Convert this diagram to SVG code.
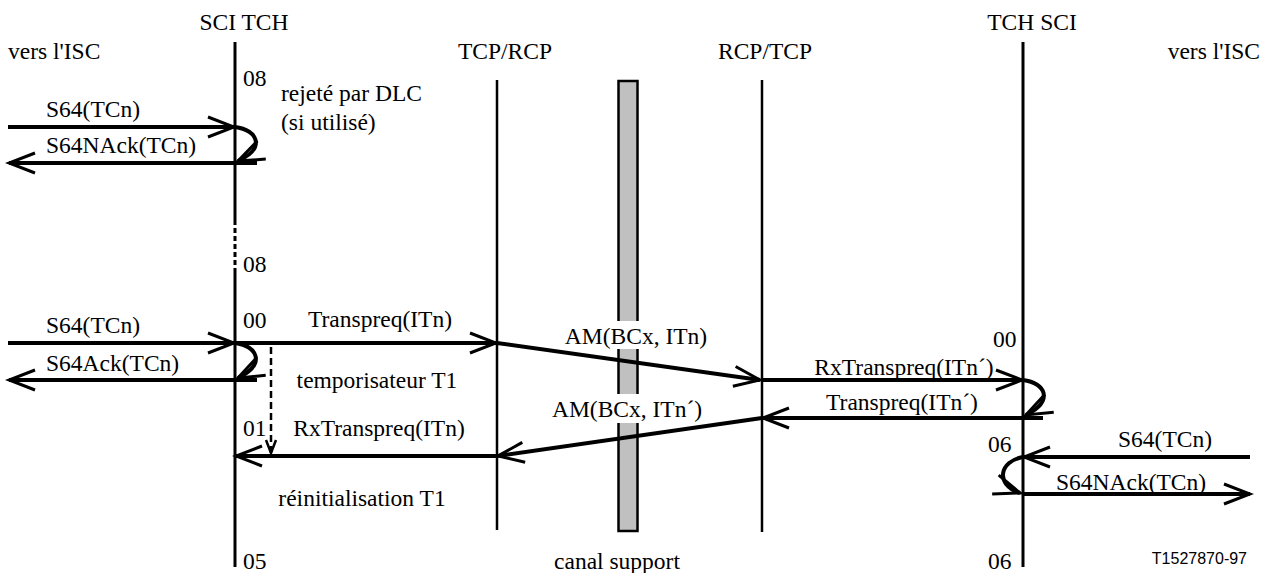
<svg xmlns="http://www.w3.org/2000/svg" width="1268" height="573" viewBox="0 0 1268 573">
<style>
text{font-family:"Liberation Serif","Times New Roman",serif;font-size:23.5px;fill:#000}
.mid{text-anchor:middle}
.end{text-anchor:end}
.ref{font-family:"Liberation Sans",Arial,sans-serif;font-size:16px}
.life{stroke:#000;stroke-width:3;fill:none}
.life2{stroke:#000;stroke-width:2.5;fill:none}
.msg{stroke:#000;stroke-width:4;fill:none;marker-end:url(#ah)}
.loop{stroke:#000;stroke-width:4;fill:none;marker-end:url(#ah)}
.dash{stroke:#000;stroke-width:2.5;fill:none;stroke-dasharray:7 4;marker-end:url(#ahs)}
</style>
<defs>
<marker id="ah" markerUnits="userSpaceOnUse" viewBox="-30 -14 34 28" refX="0" refY="0" markerWidth="34" markerHeight="28" orient="auto">
<path d="M-26,-10 L0,0 L-26,10" fill="none" stroke="#000" stroke-width="3"/>
</marker>
<marker id="ahs" markerUnits="userSpaceOnUse" viewBox="-16 -8 20 16" refX="0" refY="0" markerWidth="20" markerHeight="16" orient="auto">
<path d="M-13,-5 L0,0 L-13,5" fill="none" stroke="#000" stroke-width="2.5"/>
</marker>
</defs>
<rect width="1268" height="573" fill="#fff"/>

<g id="sci-tch-left">
<text x="244" y="30" class="mid">SCI TCH</text>
<text x="8" y="59">vers l'ISC</text>
<line x1="235" y1="42" x2="235" y2="220" class="life"/>
<line x1="235" y1="220" x2="235" y2="272" class="life" stroke-dasharray="5 3"/>
<line x1="235" y1="272" x2="235" y2="567" class="life"/>
<text x="243" y="86">08</text>
<text x="281" y="101">rejeté par DLC</text>
<text x="281" y="130">(si utilisé)</text>
<text x="243" y="272">08</text>
<text x="243" y="328">00</text>
<text x="243" y="436">01</text>
<text x="243" y="569">05</text>
<text x="377" y="388" class="mid">temporisateur T1</text>
<text x="362" y="506" class="mid">réinitialisation T1</text>
</g>

<g id="tcp-rcp">
<text x="505" y="59" class="mid">TCP/RCP</text>
<line x1="497" y1="80" x2="497" y2="530" class="life2"/>
</g>

<g id="canal-support">
<rect x="618.5" y="81" width="19" height="450" fill="#c0c0c0" stroke="#000" stroke-width="2.5"/>
<text x="617" y="569" class="mid">canal support</text>
</g>

<g id="rcp-tcp">
<text x="765" y="59" class="mid">RCP/TCP</text>
<line x1="762" y1="80" x2="762" y2="532" class="life2"/>
</g>

<g id="tch-sci-right">
<text x="1032" y="30" class="mid">TCH SCI</text>
<text x="1260" y="59" class="end">vers l'ISC</text>
<line x1="1023" y1="42" x2="1023" y2="567" class="life"/>
<text x="993" y="347">00</text>
<text x="988" y="452">06</text>
<text x="988" y="569">06</text>
<text x="1247" y="564" class="end ref">T1527870-97</text>
</g>

<g id="connectors">
<line x1="8" y1="127" x2="234" y2="127" class="msg"/>
<path d="M235,127 C258,130 266,148 238,161" class="loop"/>
<line x1="257" y1="163" x2="9" y2="163" class="msg"/>

<line x1="8" y1="343" x2="234" y2="343" class="msg"/>
<line x1="235" y1="343" x2="496" y2="343" class="msg"/>
<path d="M235,343 C258,346 266,364 238,378" class="loop"/>
<line x1="257" y1="380" x2="9" y2="380" class="msg"/>
<line x1="271" y1="347" x2="271" y2="453" class="dash"/>

<rect x="562" y="321" width="148" height="28" fill="#fff"/>
<line x1="497" y1="343" x2="760" y2="380" class="msg"/>
<line x1="762" y1="380" x2="1022" y2="380" class="msg"/>
<path d="M1023,380 C1046,383 1054,401 1026,415" class="loop"/>
<line x1="1043" y1="418" x2="763" y2="418" class="msg"/>
<rect x="548" y="394" width="158" height="29" fill="#fff"/>
<line x1="762" y1="418" x2="498" y2="456" class="msg"/>
<line x1="497" y1="456" x2="236" y2="456" class="msg"/>

<line x1="1250" y1="457" x2="1024" y2="457" class="msg"/>
<path d="M1023,457 C1000,461 994,484 1020,493" class="loop"/>
<line x1="1023" y1="494" x2="1250" y2="494" class="msg"/>
</g>

<g id="labels">
<text x="46" y="117">S64(TCn)</text>
<text x="46" y="153">S64NAck(TCn)</text>
<text x="46" y="333">S64(TCn)</text>
<text x="46" y="371">S64Ack(TCn)</text>
<text x="380" y="327" class="mid">Transpreq(ITn)</text>
<text x="379" y="436" class="mid">RxTranspreq(ITn)</text>
<text x="636" y="344" class="mid">AM(BCx, ITn)</text>
<text x="627" y="417" class="mid">AM(BCx, ITn´)</text>
<text x="904" y="375" class="mid">RxTranspreq(ITn´)</text>
<text x="902" y="410" class="mid">Transpreq(ITn´)</text>
<text x="1118" y="447">S64(TCn)</text>
<text x="1056" y="490">S64NAck(TCn)</text>
</g>
</svg>
